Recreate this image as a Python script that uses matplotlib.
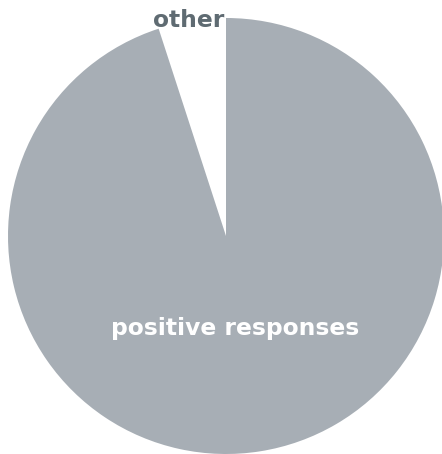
import numpy as np
import matplotlib.pyplot as plt

# Data
labels = ["other", "positive responses"]
values = [5, 95]
colors = ["#ffffff", "#a7aeb5"]
label_colors = ["#5f6b72", "#ffffff"]
label_dist = [1.0, 0.43]
label_shift = [-3, -6]  # small horizontal nudges, in pixels

fig = plt.figure(figsize=(4.42, 4.54), dpi=100)
ax = fig.add_axes([0, 0, 1, 1])

cx, cy, r = 226, 218, 218
wedges, _ = ax.pie(
    values,
    colors=colors,
    startangle=90,
    counterclock=True,
    center=(cx, cy),
    radius=r,
    frame=True,
    wedgeprops=dict(linewidth=0),
)
ax.set_xlim(0, 442)
ax.set_ylim(0, 454)
ax.axis("off")

for w, lab, col, d, dx in zip(wedges, labels, label_colors, label_dist, label_shift):
    ang = np.deg2rad((w.theta1 + w.theta2) / 2)
    x = cx + d * r * np.cos(ang) + dx
    y = cy + d * r * np.sin(ang)
    ax.text(x, y, lab, ha="center", va="center", color=col,
            fontsize=16.8, fontweight="bold", family="DejaVu Sans")

fig.savefig("out.png", dpi=100)
